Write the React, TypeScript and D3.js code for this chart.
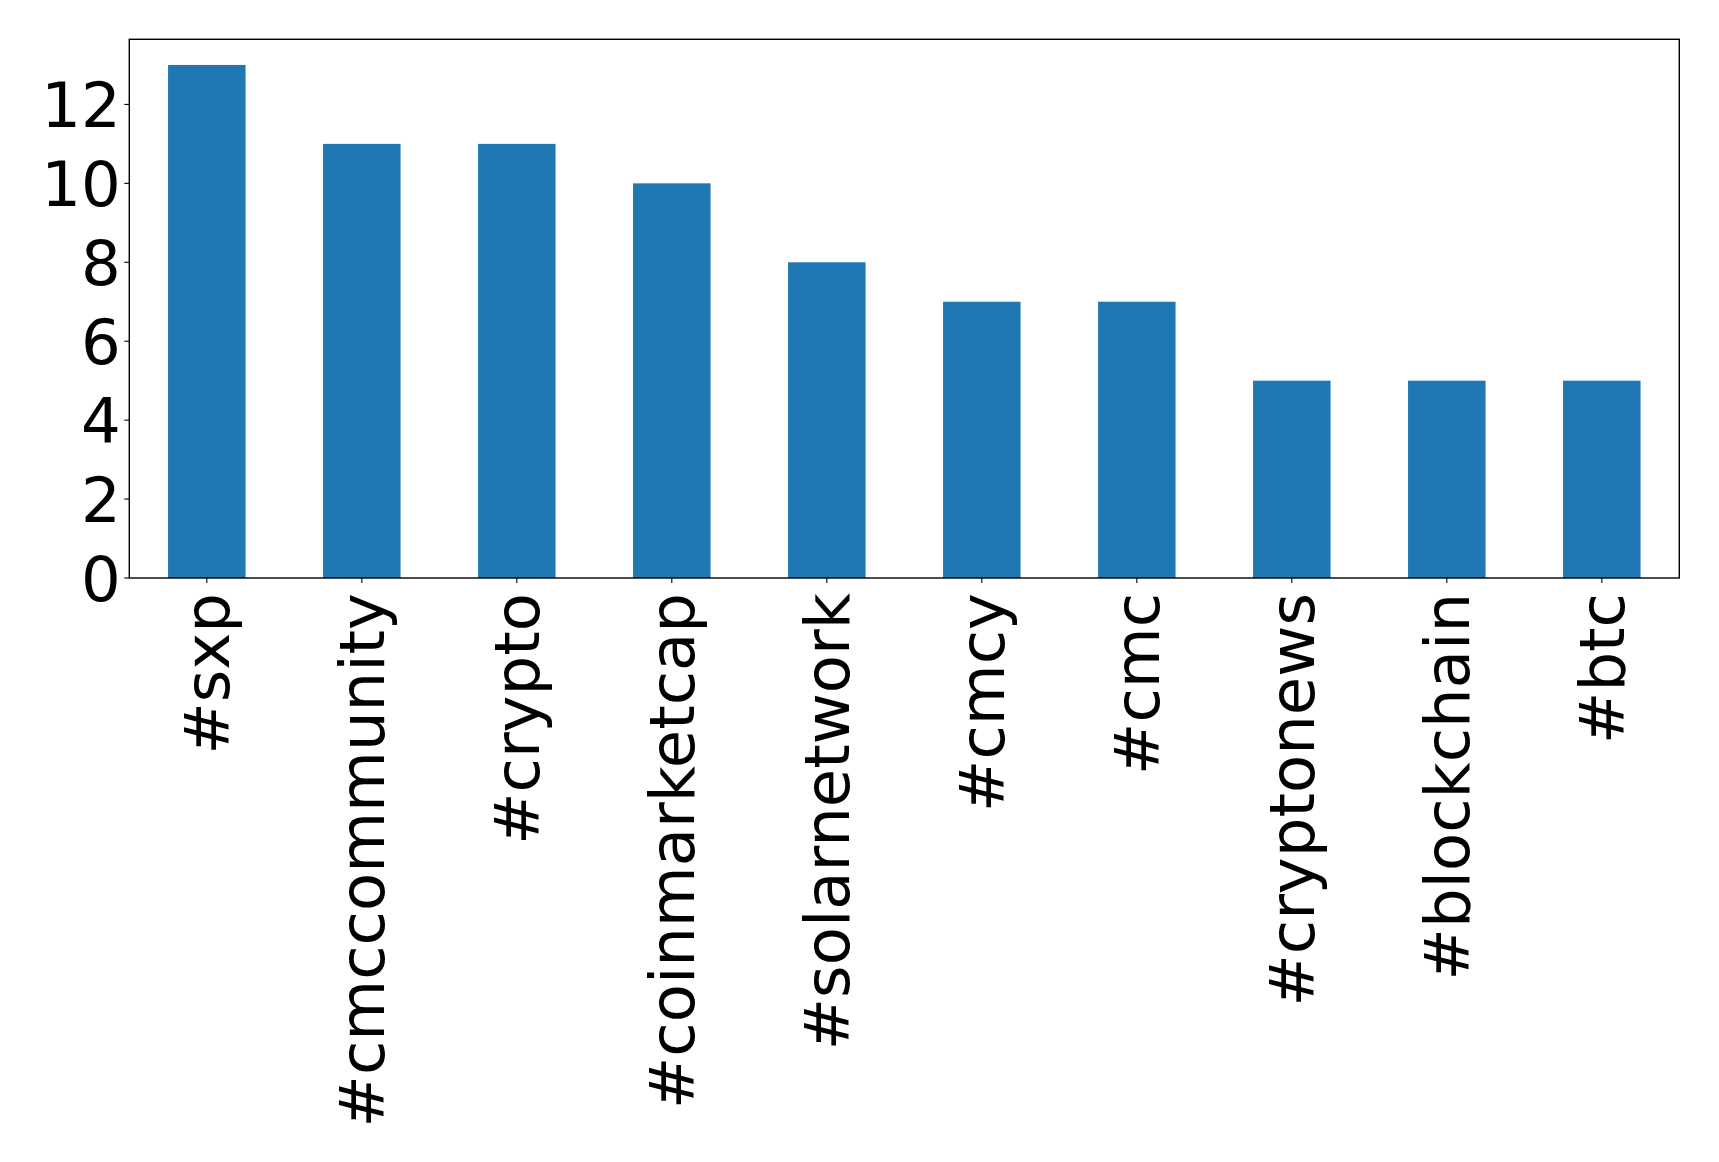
import React from "react";
import * as d3 from "d3";

const categories = ["#sxp", "#cmccommunity", "#crypto", "#coinmarketcap", "#solarnetwork", "#cmcy", "#cmc", "#cryptonews", "#blockchain", "#btc"];
const counts = [13, 11, 11, 10, 8, 7, 7, 5, 5, 5];
const yTicks = [0, 2, 4, 6, 8, 10, 12];

export default function App() {
  const W = 1719, H = 1162;
  const left = 129.3, right = 1679.3, top = 39.3, bottom = 578;
  const x = d3.scaleLinear().domain([-0.5, categories.length - 0.5]).range([left, right]);
  const y = d3.scaleLinear().domain([0, 13.65]).range([bottom, top]);
  const bw = x(0.25) - x(-0.25);
  const font = "'DejaVu Sans', sans-serif";
  const fs = 62.5;
  return (
    <svg width={W} height={H} style={{ position: "absolute", left: 0, top: 0, background: "#fff" }}>
      <rect x={0} y={0} width={W} height={H} fill="#fff" />
      {counts.map((v, i) => (
        <rect key={i} x={x(i) - bw / 2} y={y(v)} width={bw} height={y(0) - y(v)} fill="#1f77b4" />
      ))}
      <rect x={left} y={top} width={right - left} height={bottom - top} fill="none" stroke="#000" strokeWidth={1.4} />
      {yTicks.map((t) => (
        <g key={t}>
          <line x1={left - 5} x2={left} y1={y(t)} y2={y(t)} stroke="#000" strokeWidth={1.1} />
          <text x={left - 8.5} y={y(t)} dy="0.36em" textAnchor="end" fontFamily={font} fontSize={fs} fill="#000">{t}</text>
        </g>
      ))}
      {categories.map((c, i) => (
        <g key={c}>
          <line x1={x(i)} x2={x(i)} y1={bottom} y2={bottom + 5} stroke="#000" strokeWidth={1.1} />
          <text transform={`translate(${x(i)},${bottom + 15}) rotate(-90)`} dy="0.36em" textAnchor="end" fontFamily={font} fontSize={fs} fill="#000">{c}</text>
        </g>
      ))}
    </svg>
  );
}
